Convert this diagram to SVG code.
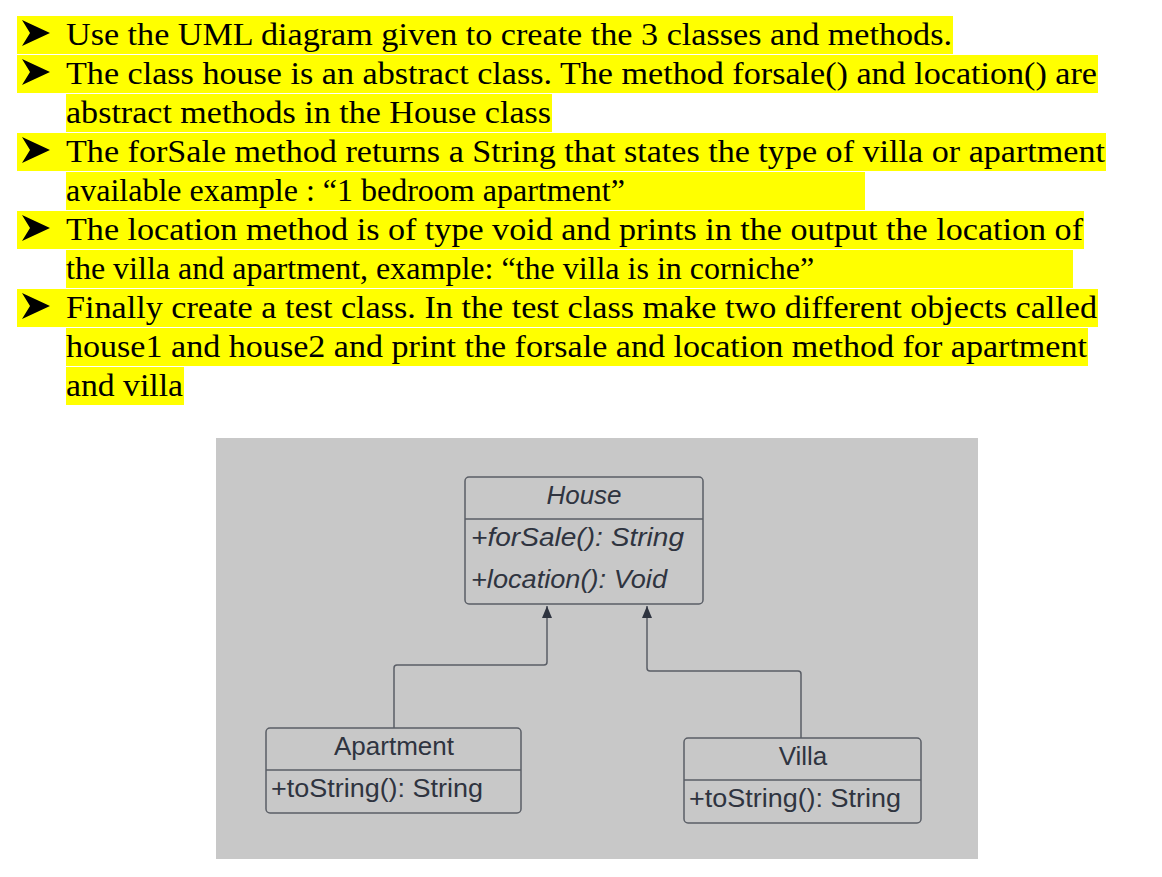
<svg xmlns="http://www.w3.org/2000/svg" width="1162" height="877" viewBox="0 0 1162 877">
<style>
.t{font-family:"Liberation Serif","Times New Roman",serif;font-size:32px;fill:#000}
.hl{fill:#ffff00}
.u{font-family:"Liberation Sans",Arial,sans-serif;font-size:26px;fill:#2f3440}
.i{font-style:italic}
.box{fill:#c8c8c8;stroke:#5a5e66;stroke-width:1.5}
.ln{stroke:#5a5e66;stroke-width:1.5;fill:none}
</style>
<defs>
<polygon id="b" points="0,-25 28,-12 0,1 8,-12" fill="#000"/>
<marker id="ar" markerWidth="12" markerHeight="10" refX="12" refY="5" orient="auto" markerUnits="userSpaceOnUse" viewBox="0 0 12 10"><path d="M0,0 L12,5 L0,10 Z" fill="#2f3440"/></marker>
</defs>
<rect width="1162" height="877" fill="#fff"/>
<g id="text">
<rect class="hl" x="17" y="16" width="936" height="38"/>
<rect class="hl" x="17" y="55" width="1081" height="38"/>
<rect class="hl" x="66" y="94" width="486" height="38"/>
<rect class="hl" x="17" y="133" width="1089" height="38"/>
<rect class="hl" x="66" y="172" width="799" height="38"/>
<rect class="hl" x="17" y="211" width="1067" height="38"/>
<rect class="hl" x="66" y="250" width="1007" height="38"/>
<rect class="hl" x="17" y="289" width="1081" height="38"/>
<rect class="hl" x="66" y="328" width="1022" height="38"/>
<rect class="hl" x="66" y="367" width="118" height="38"/>
<use href="#b" x="22" y="45"/><use href="#b" x="22" y="84"/><use href="#b" x="22" y="162"/><use href="#b" x="22" y="240"/><use href="#b" x="22" y="318"/>
<text class="t" x="66" y="45" textLength="886" lengthAdjust="spacingAndGlyphs">Use the UML diagram given to create the 3 classes and methods.</text>
<text class="t" x="66" y="84" textLength="1031" lengthAdjust="spacingAndGlyphs">The class house is an abstract class. The method forsale() and location() are</text>
<text class="t" x="66" y="123" textLength="485" lengthAdjust="spacingAndGlyphs">abstract methods in the House class</text>
<text class="t" x="66" y="162" textLength="1039" lengthAdjust="spacingAndGlyphs">The forSale method returns a String that states the type of villa or apartment</text>
<text class="t" x="66" y="201">available example : “1 bedroom apartment”</text>
<text class="t" x="66" y="240" textLength="1017" lengthAdjust="spacingAndGlyphs">The location method is of type void and prints in the output the location of</text>
<text class="t" x="66" y="279">the villa and apartment, example: “the villa is in corniche”</text>
<text class="t" x="66" y="318" textLength="1031" lengthAdjust="spacingAndGlyphs">Finally create a test class. In the test class make two different objects called</text>
<text class="t" x="66" y="357" textLength="1021" lengthAdjust="spacingAndGlyphs">house1 and house2 and print the forsale and location method for apartment</text>
<text class="t" x="66" y="396" textLength="117" lengthAdjust="spacingAndGlyphs">and villa</text>
</g>
<rect x="216" y="438" width="762" height="421" fill="#c8c8c8"/>
<g id="connectors">
<path class="ln" d="M394,728 V668 Q394,665 397,665 H544 Q547,665 547,662 V606" marker-end="url(#ar)"/>
<path class="ln" d="M801,738 V674 Q801,671 798,671 H650 Q647,671 647,668 V606" marker-end="url(#ar)"/>
</g>
<g id="house">
<rect class="box" x="465" y="477" width="238" height="127" rx="4"/>
<line class="ln" x1="465" y1="519" x2="703" y2="519"/>
<text class="u i" x="584" y="504" text-anchor="middle">House</text>
<text class="u i" x="471" y="546" textLength="213" lengthAdjust="spacingAndGlyphs">+forSale():  String</text>
<text class="u i" x="471" y="588" textLength="196" lengthAdjust="spacingAndGlyphs">+location(): Void</text>
</g>
<g id="apartment">
<rect class="box" x="266" y="728" width="255" height="85" rx="4"/>
<line class="ln" x1="266" y1="770" x2="521" y2="770"/>
<text class="u" x="394" y="755" text-anchor="middle">Apartment</text>
<text class="u" x="271" y="797" textLength="212" lengthAdjust="spacingAndGlyphs">+toString(): String</text>
</g>
<g id="villa">
<rect class="box" x="684" y="738" width="237" height="85" rx="4"/>
<line class="ln" x1="684" y1="780" x2="921" y2="780"/>
<text class="u" x="803" y="765" text-anchor="middle">Villa</text>
<text class="u" x="689" y="807" textLength="212" lengthAdjust="spacingAndGlyphs">+toString(): String</text>
</g>
</svg>
